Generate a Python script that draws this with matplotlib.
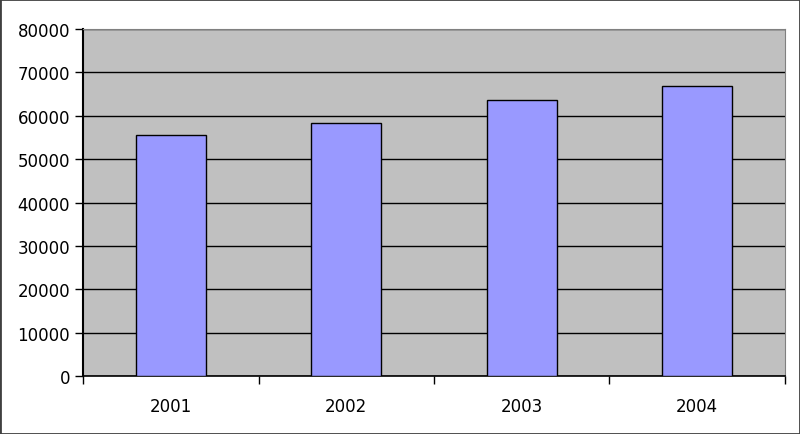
import matplotlib.pyplot as plt
import numpy as np

years = ['2001', '2002', '2003', '2004']
values = [55500, 58300, 63600, 66800]
yticks = [0, 10000, 20000, 30000, 40000, 50000, 60000, 70000, 80000]

fig = plt.figure(figsize=(8, 4.35), dpi=100)
ax = fig.add_axes([0.104, 0.133, 0.877, 0.798])
ax.set_facecolor('#C0C0C0')

x = np.arange(len(years))
ax.bar(x, values, width=0.4, color='#9999FF', edgecolor='black', linewidth=1, zorder=3)

ax.set_ylim(0, 80000)
ax.set_xlim(-0.5, len(years) - 0.5)
ax.set_yticks(yticks)
ax.set_yticklabels([str(v) for v in yticks], fontsize=12)
ax.yaxis.grid(True, color='black', linewidth=1, zorder=1)
ax.set_axisbelow(True)

# category labels centered, ticks on the boundaries
ax.set_xticks(x)
ax.set_xticklabels(years, fontsize=12)
ax.tick_params(axis='x', length=0, pad=15)
ax.set_xticks(np.arange(-0.5, len(years)), minor=True)
ax.tick_params(axis='x', which='minor', length=6, width=1, direction='out')
ax.tick_params(axis='y', length=6, width=1, direction='out')

ax.spines['left'].set_linewidth(1.5)
ax.spines['bottom'].set_linewidth(1.2)
ax.spines['top'].set_color('#808080')
ax.spines['right'].set_color('#808080')

# outer frame
fig.patches.append(plt.Rectangle((0, 0), 1, 1, transform=fig.transFigure,
                                 fill=False, edgecolor='#404040', linewidth=2))

plt.savefig('out.png', dpi=100)
